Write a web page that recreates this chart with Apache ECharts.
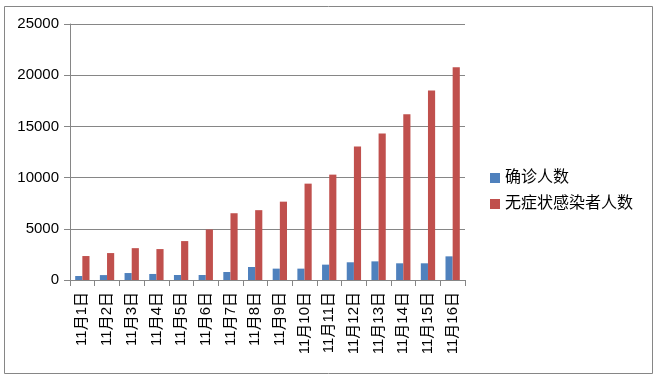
<!DOCTYPE html>
<html><head><meta charset="utf-8">
<script src="https://cdn.jsdelivr.net/npm/echarts@6/dist/echarts.min.js"></script>
<style>html,body{margin:0;padding:0;background:#fff}#c{width:660px;height:379px}</style>
</head><body><div id="c"></div>
<script>
const categories = ['11月1日','11月2日','11月3日','11月4日','11月5日','11月6日','11月7日','11月8日','11月9日','11月10日','11月11日','11月12日','11月13日','11月14日','11月15日','11月16日'];
const seriesNames = ['确诊人数','无症状感染者人数'];
const confirmed = [390, 480, 680, 590, 490, 490, 780, 1270, 1110, 1110, 1500, 1730, 1820, 1630, 1630, 2310];
const asymptomatic = [2340, 2630, 3110, 3020, 3800, 4930, 6520, 6820, 7650, 9410, 10290, 13030, 14300, 16190, 18500, 20780];
const yTicks = [0, 5000, 10000, 15000, 20000, 25000];

const FONT = '"Liberation Sans", "Noto Sans CJK SC", sans-serif';
const chart = echarts.init(document.getElementById('c'), null, {renderer: 'canvas'});
chart.setOption({
  animation: false,
  textStyle: {fontFamily: FONT},
  graphic: [{
    type: 'rect', shape: {x: 4.5, y: 6.5, width: 648, height: 367},
    style: {fill: 'none', stroke: '#868686', lineWidth: 1}, silent: true, z: -1
  }],
  grid: {left: 70, right: 195, top: 24, bottom: 99, containLabel: false},
  legend: {
    orient: 'vertical', left: 485, top: 165, itemWidth: 10, itemHeight: 10, itemGap: 10,
    icon: 'rect',
    textStyle: {fontSize: 16, color: '#000', fontFamily: FONT},
    data: seriesNames
  },
  xAxis: {
    type: 'category', data: categories,
    axisLine: {lineStyle: {color: '#868686'}},
    axisTick: {show: true, length: 6, alignWithLabel: false, lineStyle: {color: '#868686'}},
    axisLabel: {rotate: 90, fontSize: 15, color: '#000', margin: 12, interval: 0, fontFamily: FONT}
  },
  yAxis: {
    type: 'value', min: yTicks[0], max: yTicks[yTicks.length - 1], interval: 5000,
    axisLine: {show: true, lineStyle: {color: '#868686'}},
    axisTick: {show: true, length: 6, lineStyle: {color: '#868686'}},
    splitLine: {lineStyle: {color: '#868686'}},
    axisLabel: {fontSize: 15, color: '#000', margin: 11, fontFamily: FONT, formatter: v => String(v)}
  },
  series: [
    {name: seriesNames[0], type: 'bar', data: confirmed, itemStyle: {color: '#4F81BD'}, barGap: '0%', barCategoryGap: '42%'},
    {name: seriesNames[1], type: 'bar', data: asymptomatic, itemStyle: {color: '#C0504D'}, barGap: '0%', barCategoryGap: '42%'}
  ]
});
</script></body></html>
